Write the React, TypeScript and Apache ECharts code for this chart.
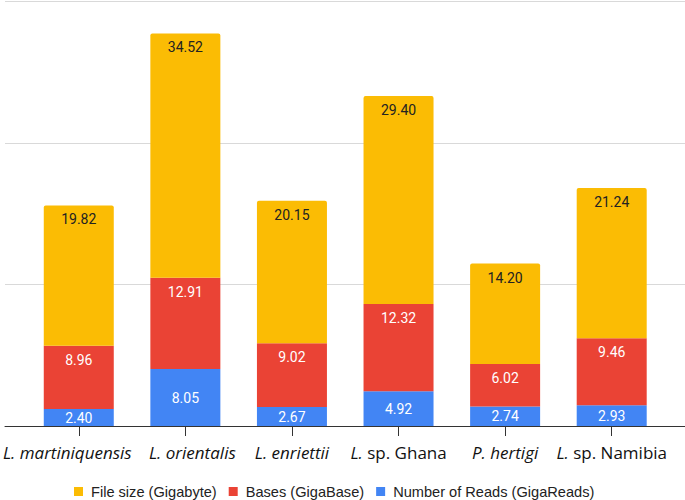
import React, { useEffect, useRef } from "react";
import * as echarts from "echarts";

const categories = ["L. martiniquensis", "L. orientalis", "L. enriettii", "L. sp. Ghana", "P. hertigi", "L. sp. Namibia"];
const readsValues = [2.40, 8.05, 2.67, 4.92, 2.74, 2.93];
const basesValues = [8.96, 12.91, 9.02, 12.32, 6.02, 9.46];
const fileSizeValues = [19.82, 34.52, 20.15, 29.40, 14.20, 21.24];
const seriesNames = ["File size (Gigabyte)", "Bases (GigaBase)", "Number of Reads (GigaReads)"];
const yTicks = [0, 20, 40, 60];

const labelRich: Record<string, string> = {
  "L. martiniquensis": "{i|L. martiniquensis}{gA| }",
  "L. orientalis": "{gB| }{i|L. orientalis}",
  "L. enriettii": "{i|L. enriettii}",
  "L. sp. Ghana": "{i|L.}{n| sp. Ghana}",
  "P. hertigi": "{i|P. hertigi}",
  "L. sp. Namibia": "{i|L.}{n| sp. Namibia}",
};

export default function App() {
  const ref = useRef<HTMLDivElement>(null);
  useEffect(() => {
    if (!ref.current) return;
    const chart = echarts.init(ref.current, null, { renderer: "svg" });
    const labelFont = "Roboto";
    const catFont = "'Open Sans', sans-serif";
    chart.setOption({
      animation: false,
      grid: [
        { left: 5, right: 0, top: 1.5, bottom: 74 },
        { left: 24, right: 20, top: 1.5, bottom: 74 },
      ],
      legend: {
        left: 74,
        top: 484,
        padding: 0,
        data: seriesNames,
        icon: "rect",
        itemWidth: 9,
        itemHeight: 9,
        itemGap: 12,
        textStyle: {
          fontFamily: "'Liberation Sans', Arial, sans-serif",
          fontSize: 14.6,
          color: "#222",
          padding: [0, 0, 0, 3],
        },
      },
      xAxis: [
        {
          gridIndex: 0,
          type: "value",
          min: 0,
          max: 1,
          axisLine: { show: true, onZero: false, lineStyle: { color: "#333", width: 1 } },
          axisTick: { show: false },
          axisLabel: { show: false },
          splitLine: { show: false },
        },
        {
          gridIndex: 1,
          type: "category",
          data: categories,
          axisLine: { show: false },
          axisTick: { show: true, alignWithLabel: true, length: 10, lineStyle: { color: "#333" } },
          axisLabel: {
            interval: 0,
            margin: 18,
            formatter: (v: string) => labelRich[v] ?? v,
            rich: {
              i: { fontFamily: catFont, fontStyle: "italic", fontSize: 17, color: "#111" },
              n: { fontFamily: catFont, fontSize: 17, color: "#111" },
              gA: { width: 23, fontSize: 17 },
              gB: { width: 14, fontSize: 17 },
            },
          },
        },
      ],
      yAxis: [
        {
          gridIndex: 0,
          type: "value",
          min: yTicks[0],
          max: yTicks[yTicks.length - 1],
          interval: 20,
          axisLine: { show: false },
          axisTick: { show: false },
          axisLabel: { show: false },
          splitLine: { show: true, lineStyle: { color: "#d9d9d9", width: 1 } },
        },
        {
          gridIndex: 1,
          type: "value",
          min: yTicks[0],
          max: yTicks[yTicks.length - 1],
          show: false,
          splitLine: { show: false },
        },
      ],
      series: [
        {
          name: seriesNames[2],
          type: "bar",
          stack: "total",
          xAxisIndex: 1,
          yAxisIndex: 1,
          barWidth: 70,
          data: readsValues,
          itemStyle: { color: "#4285F4" },
          label: {
            show: true,
            position: "inside",
            color: "#fff",
            fontFamily: labelFont,
            fontSize: 14,
            formatter: (p: any) => Number(p.value).toFixed(2),
          },
        },
        {
          name: seriesNames[1],
          type: "bar",
          stack: "total",
          xAxisIndex: 1,
          yAxisIndex: 1,
          barWidth: 70,
          data: basesValues,
          itemStyle: { color: "#EA4335" },
          label: {
            show: true,
            position: "insideTop",
            distance: 7,
            color: "#fff",
            fontFamily: labelFont,
            fontSize: 14,
            formatter: (p: any) => Number(p.value).toFixed(2),
          },
        },
        {
          name: seriesNames[0],
          type: "bar",
          stack: "total",
          xAxisIndex: 1,
          yAxisIndex: 1,
          barWidth: 70,
          data: fileSizeValues,
          itemStyle: { color: "#FBBC04", borderRadius: [2, 2, 0, 0] },
          label: {
            show: true,
            position: "insideTop",
            distance: 7,
            color: "#222",
            fontFamily: labelFont,
            fontSize: 14,
            formatter: (p: any) => Number(p.value).toFixed(2),
          },
        },
      ],
    });
    return () => chart.dispose();
  }, []);
  return (
    <div
      ref={ref}
      style={{ position: "absolute", left: 0, top: 0, width: 685, height: 500, background: "#fff" }}
    />
  );
}
